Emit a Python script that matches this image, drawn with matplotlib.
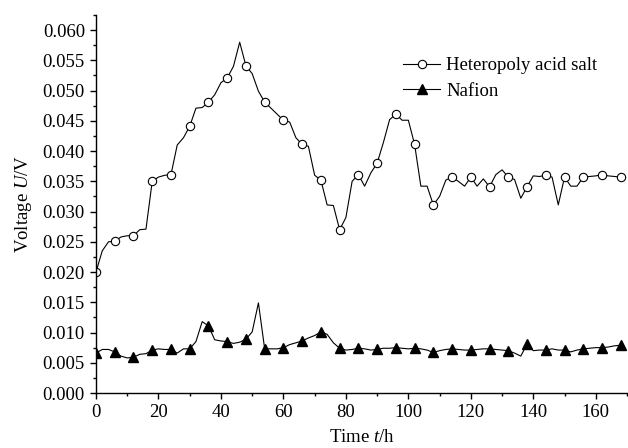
import numpy as np
import matplotlib
matplotlib.use("Agg")
import matplotlib.pyplot as plt
from matplotlib.ticker import MultipleLocator, FormatStrFormatter

plt.rcParams['font.family'] = ['Liberation Serif', 'DejaVu Serif']
plt.rcParams['mathtext.fontset'] = 'custom'
plt.rcParams['mathtext.rm'] = 'Liberation Serif'
plt.rcParams['mathtext.it'] = 'Liberation Serif:italic'

# time every 2 h, markers every 6 h
time_h = list(range(0, 170, 2))

hpa_salt = [0.0200, 0.0235, 0.0250, 0.0251, 0.0258, 0.0260, 0.0260, 0.0270, 0.0271,
            0.0350, 0.0357, 0.0360, 0.0361, 0.0410, 0.0422, 0.0441, 0.0471, 0.0472,
            0.0481, 0.0493, 0.0513, 0.0521, 0.0540, 0.0580, 0.0541, 0.0528, 0.0499,
            0.0481, 0.0471, 0.0461, 0.0451, 0.0448, 0.0422, 0.0411, 0.0408, 0.0360,
            0.0352, 0.0311, 0.0310, 0.0270, 0.0290, 0.0350, 0.0361, 0.0342, 0.0364,
            0.0380, 0.0414, 0.0452, 0.0461, 0.0451, 0.0451, 0.0411, 0.0342, 0.0342,
            0.0311, 0.0325, 0.0352, 0.0357, 0.0350, 0.0342, 0.0357, 0.0342, 0.0354,
            0.0341, 0.0361, 0.0369, 0.0357, 0.0353, 0.0322, 0.0341, 0.0359, 0.0358,
            0.0360, 0.0357, 0.0311, 0.0357, 0.0342, 0.0342, 0.0357, 0.0358, 0.0359,
            0.0361, 0.0359, 0.0358, 0.0357]

nafion = [0.0066, 0.0072, 0.0072, 0.0068, 0.0061, 0.0058, 0.0059, 0.0064, 0.0065,
          0.0071, 0.0073, 0.0072, 0.0072, 0.0066, 0.0073, 0.0073, 0.0085, 0.0118,
          0.0111, 0.0088, 0.0086, 0.0085, 0.0082, 0.0084, 0.0089, 0.0101, 0.0149,
          0.0073, 0.0073, 0.0073, 0.0075, 0.0080, 0.0083, 0.0086, 0.0091, 0.0095,
          0.0101, 0.0097, 0.0083, 0.0074, 0.0071, 0.0072, 0.0074, 0.0073, 0.0071,
          0.0072, 0.0074, 0.0074, 0.0075, 0.0074, 0.0073, 0.0074, 0.0073, 0.0071,
          0.0067, 0.0070, 0.0072, 0.0073, 0.0072, 0.0071, 0.0071, 0.0072, 0.0073,
          0.0073, 0.0072, 0.0071, 0.0070, 0.0066, 0.0061, 0.0081, 0.0070, 0.0071,
          0.0071, 0.0073, 0.0071, 0.0071, 0.0068, 0.0071, 0.0073, 0.0074, 0.0075,
          0.0075, 0.0076, 0.0078, 0.0079]

fig = plt.figure(figsize=(6.28, 4.48), dpi=100)
ax = fig.add_axes([96 / 628, 1 - 393 / 448, 531 / 628, 378 / 448])

ax.plot(time_h, hpa_salt, color='black', lw=0.8, marker='o', markevery=3,
        ms=6, mfc='white', mec='black', mew=0.8, label='Heteropoly acid salt')
ax.plot(time_h, nafion, color='black', lw=0.8, marker='^', markevery=3,
        ms=6.5, mfc='black', mec='black', label='Nafion')

ax.set_xlim(0, 170)
ax.set_ylim(0, 0.0625)
ax.xaxis.set_major_locator(MultipleLocator(20))
ax.xaxis.set_minor_locator(MultipleLocator(10))
ax.yaxis.set_major_locator(MultipleLocator(0.005))
ax.yaxis.set_minor_locator(MultipleLocator(0.0025))
ax.yaxis.set_major_formatter(FormatStrFormatter('%.3f'))

for side in ['top', 'right']:
    ax.spines[side].set_visible(False)
for side in ['left', 'bottom']:
    ax.spines[side].set_linewidth(1.0)

ax.tick_params(which='major', direction='out', length=4.5, width=1.0, labelsize=13.5)
ax.tick_params(which='minor', direction='out', length=2.5, width=1.0)

ax.set_xlabel('Time $t$/h', fontsize=13.5, labelpad=6)
ax.set_ylabel('Voltage $U$/V', fontsize=13.5, labelpad=6)

ax.legend(loc='upper left', bbox_to_anchor=(0.578, 0.888), frameon=False,
          fontsize=13.5, borderpad=0, borderaxespad=0, handlelength=2.0,
          handletextpad=0.3, labelspacing=0.45)

fig.savefig('out.png', dpi=100)
